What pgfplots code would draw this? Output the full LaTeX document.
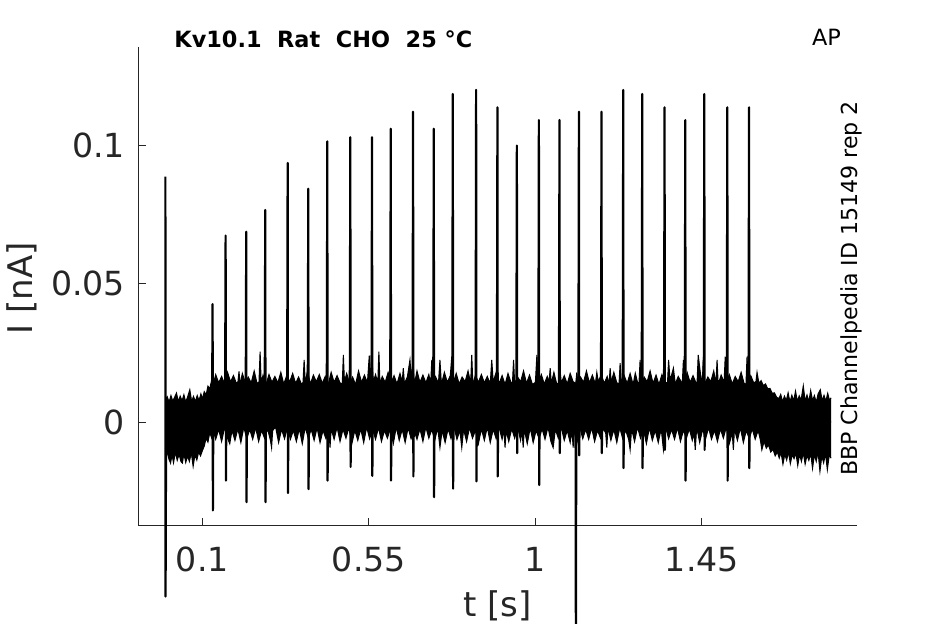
\documentclass[border=0pt]{standalone}
\usepackage{fontspec}
\setmainfont{DejaVu Sans}
\usepackage{pgfplots}
\usepackage{pgfplotstable}
\pgfplotsset{compat=1.18}
\usepgfplotslibrary{fillbetween}
\definecolor{axgray}{HTML}{262626}

\pgfplotstableread{
x y
0.000 0.0082
0.005 0.0092
0.010 0.0072
0.015 0.0096
0.020 0.0076
0.025 0.0090
0.030 0.0105
0.035 0.0074
0.040 0.0094
0.045 0.0077
0.050 0.0099
0.055 0.0073
0.060 0.0091
0.066 0.0117
0.071 0.0075
0.076 0.0093
0.081 0.0074
0.086 0.0096
0.091 0.0078
0.096 0.0102
0.100 0.0084
0.105 0.0110
0.110 0.0098
0.115 0.0130
0.120 0.0120
0.125 0.0152
0.130 0.0140
0.136 0.0172
0.144 0.0142
0.152 0.0165
0.160 0.0138
0.168 0.0180
0.176 0.0146
0.184 0.0168
0.192 0.0140
0.196 0.0145
0.199 0.0183
0.202 0.0136
0.208 0.0176
0.216 0.0144
0.224 0.0163
0.232 0.0142
0.240 0.0185
0.248 0.0138
0.253 0.0146
0.256 0.0255
0.259 0.0140
0.264 0.0170
0.272 0.0136
0.280 0.0172
0.288 0.0144
0.296 0.0165
0.304 0.0142
0.312 0.0180
0.320 0.0138
0.328 0.0168
0.336 0.0146
0.344 0.0176
0.352 0.0140
0.360 0.0163
0.368 0.0136
0.372 0.0144
0.375 0.0225
0.378 0.0142
0.384 0.0185
0.392 0.0138
0.400 0.0170
0.408 0.0146
0.416 0.0172
0.424 0.0140
0.432 0.0165
0.440 0.0136
0.448 0.0180
0.456 0.0144
0.464 0.0168
0.472 0.0142
0.478 0.0138
0.481 0.0243
0.484 0.0146
0.490 0.0176
0.498 0.0140
0.506 0.0163
0.514 0.0136
0.522 0.0185
0.530 0.0144
0.538 0.0170
0.546 0.0142
0.551 0.0240
0.554 0.0138
0.558 0.0236
0.562 0.0146
0.568 0.0172
0.574 0.0140
0.577 0.0255
0.580 0.0136
0.586 0.0165
0.594 0.0144
0.602 0.0180
0.610 0.0142
0.618 0.0168
0.626 0.0138
0.634 0.0176
0.640 0.0146
0.643 0.0195
0.646 0.0140
0.654 0.0163
0.661 0.0225
0.665 0.0150
0.669 0.0225
0.673 0.0136
0.680 0.0185
0.688 0.0144
0.696 0.0170
0.704 0.0142
0.712 0.0172
0.717 0.0138
0.720 0.0225
0.723 0.0146
0.730 0.0165
0.738 0.0140
0.742 0.0225
0.746 0.0136
0.754 0.0180
0.762 0.0144
0.770 0.0168
0.774 0.0237
0.778 0.0142
0.786 0.0176
0.794 0.0138
0.802 0.0163
0.810 0.0146
0.818 0.0185
0.825 0.0140
0.828 0.0243
0.831 0.0136
0.838 0.0170
0.846 0.0144
0.854 0.0172
0.862 0.0142
0.870 0.0165
0.878 0.0138
0.882 0.0225
0.886 0.0146
0.894 0.0180
0.902 0.0140
0.910 0.0168
0.918 0.0136
0.926 0.0176
0.934 0.0144
0.938 0.0142
0.941 0.0225
0.944 0.0138
0.952 0.0163
0.960 0.0146
0.968 0.0185
0.976 0.0140
0.984 0.0170
0.992 0.0136
1.000 0.0144
1.004 0.0243
1.008 0.0142
1.016 0.0172
1.024 0.0138
1.032 0.0165
1.037 0.0146
1.040 0.0195
1.043 0.0140
1.050 0.0180
1.058 0.0136
1.064 0.0144
1.067 0.0183
1.070 0.0142
1.078 0.0168
1.086 0.0138
1.094 0.0176
1.102 0.0146
1.109 0.0140
1.112 0.0180
1.115 0.0136
1.122 0.0163
1.130 0.0144
1.138 0.0185
1.146 0.0142
1.154 0.0170
1.162 0.0138
1.166 0.0180
1.170 0.0146
1.178 0.0172
1.186 0.0140
1.194 0.0165
1.199 0.0136
1.202 0.0195
1.205 0.0144
1.212 0.0180
1.220 0.0142
1.226 0.0138
1.229 0.0213
1.232 0.0146
1.240 0.0168
1.248 0.0140
1.256 0.0176
1.264 0.0136
1.270 0.0177
1.276 0.0144
1.280 0.0142
1.283 0.0225
1.286 0.0138
1.294 0.0163
1.302 0.0146
1.310 0.0185
1.318 0.0140
1.326 0.0170
1.334 0.0136
1.342 0.0172
1.350 0.0144
1.357 0.0142
1.360 0.0225
1.364 0.0150
1.373 0.0195
1.378 0.0138
1.386 0.0165
1.394 0.0146
1.397 0.0140
1.400 0.0225
1.403 0.0136
1.410 0.0180
1.418 0.0144
1.426 0.0168
1.434 0.0142
1.437 0.0145
1.440 0.0243
1.446 0.0176
1.451 0.0140
1.454 0.0237
1.458 0.0138
1.466 0.0163
1.474 0.0146
1.482 0.0185
1.488 0.0140
1.491 0.0225
1.494 0.0136
1.502 0.0170
1.510 0.0144
1.513 0.0237
1.516 0.0142
1.524 0.0172
1.532 0.0138
1.540 0.0165
1.548 0.0146
1.556 0.0180
1.564 0.0140
1.569 0.0136
1.572 0.0237
1.575 0.0144
1.582 0.0168
1.590 0.0142
1.596 0.0146
1.599 0.0180
1.604 0.0140
1.610 0.0150
1.616 0.0132
1.622 0.0138
1.628 0.0120
1.634 0.0122
1.640 0.0104
1.646 0.0106
1.652 0.0090
1.658 0.0085
1.663 0.0100
1.668 0.0074
1.673 0.0094
1.678 0.0078
1.683 0.0106
1.688 0.0073
1.693 0.0097
1.698 0.0077
1.703 0.0112
1.708 0.0075
1.713 0.0095
1.718 0.0079
1.724 0.0131
1.729 0.0076
1.734 0.0098
1.739 0.0074
1.744 0.0114
1.749 0.0078
1.754 0.0096
1.759 0.0072
1.764 0.0102
1.770 0.0117
1.775 0.0077
1.780 0.0097
1.785 0.0076
1.790 0.0104
1.795 0.0078
1.799 0.0088
}\upperenv

\pgfplotstableread{
x y
0.000 -0.0093
0.005 -0.0110
0.010 -0.0135
0.014 -0.0148
0.018 -0.0118
0.022 -0.0147
0.027 -0.0108
0.032 -0.0138
0.037 -0.0116
0.042 -0.0142
0.046 -0.0148
0.050 -0.0113
0.055 -0.0146
0.060 -0.0123
0.065 -0.0142
0.070 -0.0110
0.075 -0.0160
0.080 -0.0118
0.085 -0.0137
0.090 -0.0108
0.095 -0.0122
0.100 -0.0103
0.105 -0.0087
0.110 -0.0058
0.115 -0.0072
0.120 -0.0038
0.125 -0.0057
0.130 -0.0033
0.136 -0.0062
0.144 -0.0026
0.152 -0.0070
0.160 -0.0020
0.168 -0.0058
0.174 -0.0078
0.180 -0.0030
0.188 -0.0066
0.196 -0.0024
0.204 -0.0074
0.212 -0.0018
0.220 -0.0060
0.228 -0.0026
0.236 -0.0062
0.244 -0.0020
0.252 -0.0070
0.260 -0.0030
0.268 -0.0058
0.276 -0.0024
0.284 -0.0066
0.287 -0.0092
0.290 -0.0030
0.298 -0.0018
0.306 -0.0074
0.314 -0.0026
0.322 -0.0060
0.330 -0.0020
0.338 -0.0062
0.346 -0.0030
0.354 -0.0070
0.362 -0.0024
0.370 -0.0078
0.378 -0.0018
0.386 -0.0058
0.394 -0.0026
0.402 -0.0066
0.410 -0.0020
0.418 -0.0074
0.426 -0.0030
0.434 -0.0060
0.442 -0.0030
0.445 -0.0092
0.448 -0.0024
0.456 -0.0062
0.464 -0.0018
0.472 -0.0070
0.480 -0.0026
0.488 -0.0058
0.496 -0.0020
0.504 -0.0078
0.512 -0.0030
0.520 -0.0066
0.528 -0.0024
0.536 -0.0074
0.544 -0.0018
0.552 -0.0060
0.560 -0.0026
0.568 -0.0062
0.576 -0.0020
0.584 -0.0070
0.592 -0.0030
0.600 -0.0058
0.608 -0.0024
0.616 -0.0078
0.624 -0.0018
0.632 -0.0066
0.640 -0.0026
0.648 -0.0074
0.656 -0.0020
0.664 -0.0060
0.672 -0.0030
0.680 -0.0062
0.688 -0.0024
0.696 -0.0070
0.704 -0.0018
0.712 -0.0058
0.720 -0.0026
0.728 -0.0066
0.736 -0.0020
0.742 -0.0092
0.748 -0.0030
0.756 -0.0074
0.764 -0.0024
0.772 -0.0060
0.780 -0.0018
0.788 -0.0062
0.796 -0.0030
0.801 -0.0092
0.806 -0.0026
0.814 -0.0070
0.822 -0.0020
0.830 -0.0058
0.838 -0.0030
0.846 -0.0078
0.854 -0.0024
0.862 -0.0066
0.870 -0.0018
0.878 -0.0074
0.886 -0.0026
0.894 -0.0060
0.902 -0.0020
0.910 -0.0062
0.915 -0.0030
0.918 -0.0092
0.921 -0.0030
0.928 -0.0070
0.936 -0.0024
0.944 -0.0058
0.952 -0.0018
0.960 -0.0066
0.964 -0.0030
0.967 -0.0092
0.970 -0.0026
0.978 -0.0078
0.986 -0.0020
0.994 -0.0074
1.002 -0.0030
1.010 -0.0060
1.018 -0.0024
1.026 -0.0062
1.034 -0.0018
1.042 -0.0070
1.048 -0.0092
1.054 -0.0026
1.062 -0.0058
1.070 -0.0020
1.078 -0.0066
1.086 -0.0030
1.094 -0.0074
1.099 -0.0030
1.102 -0.0092
1.105 -0.0024
1.112 -0.0078
1.120 -0.0018
1.128 -0.0060
1.136 -0.0026
1.144 -0.0062
1.152 -0.0020
1.160 -0.0070
1.168 -0.0030
1.176 -0.0058
1.184 -0.0024
1.190 -0.0040
1.193 -0.0092
1.196 -0.0018
1.204 -0.0066
1.212 -0.0026
1.220 -0.0074
1.228 -0.0020
1.236 -0.0060
1.244 -0.0030
1.252 -0.0062
1.256 -0.0100
1.260 -0.0024
1.268 -0.0070
1.276 -0.0018
1.284 -0.0058
1.292 -0.0026
1.300 -0.0078
1.308 -0.0020
1.316 -0.0066
1.324 -0.0030
1.332 -0.0074
1.340 -0.0024
1.346 -0.0100
1.352 -0.0018
1.360 -0.0060
1.368 -0.0026
1.376 -0.0062
1.384 -0.0020
1.392 -0.0070
1.400 -0.0030
1.408 -0.0058
1.416 -0.0024
1.424 -0.0066
1.429 -0.0040
1.432 -0.0100
1.436 -0.0018
1.444 -0.0074
1.452 -0.0026
1.460 -0.0060
1.468 -0.0020
1.476 -0.0062
1.484 -0.0030
1.492 -0.0070
1.500 -0.0024
1.508 -0.0058
1.516 -0.0018
1.524 -0.0078
1.532 -0.0040
1.535 -0.0100
1.538 -0.0026
1.546 -0.0066
1.554 -0.0020
1.562 -0.0074
1.570 -0.0030
1.578 -0.0060
1.586 -0.0024
1.594 -0.0062
1.602 -0.0030
1.608 -0.0064
1.612 -0.0100
1.618 -0.0070
1.624 -0.0094
1.630 -0.0082
1.636 -0.0108
1.642 -0.0098
1.648 -0.0122
1.654 -0.0108
1.659 -0.0130
1.664 -0.0110
1.669 -0.0152
1.674 -0.0116
1.679 -0.0137
1.684 -0.0108
1.689 -0.0150
1.694 -0.0118
1.699 -0.0132
1.704 -0.0111
1.709 -0.0157
1.714 -0.0117
1.719 -0.0142
1.724 -0.0110
1.729 -0.0152
1.734 -0.0120
1.739 -0.0138
1.744 -0.0113
1.749 -0.0167
1.754 -0.0118
1.759 -0.0142
1.764 -0.0108
1.769 -0.0178
1.774 -0.0123
1.779 -0.0147
1.784 -0.0113
1.789 -0.0172
1.794 -0.0120
1.799 -0.0130
}\lowerenv

\pgfplotstableread{
x y
0.0000 0.0887
0.0005 -0.0630
0.0020 0.0000
0.1261 0.0030
0.1276 0.0426
0.1284 -0.0319
0.1296 0.0030
0.1613 0.0030
0.1628 0.0674
0.1636 -0.0211
0.1648 0.0030
0.2170 0.0030
0.2185 0.0688
0.2193 -0.0289
0.2205 0.0030
0.2684 0.0030
0.2699 0.0766
0.2707 -0.0289
0.2719 0.0030
0.3290 0.0030
0.3305 0.0936
0.3313 -0.0256
0.3325 0.0030
0.3847 0.0030
0.3862 0.0843
0.3870 -0.0242
0.3882 0.0030
0.4361 0.0030
0.4376 0.1014
0.4384 -0.0211
0.4396 0.0030
0.4983 0.0030
0.4998 0.1029
0.5006 -0.0162
0.5018 0.0030
0.5570 0.0030
0.5585 0.1029
0.5593 -0.0194
0.5605 0.0030
0.6076 0.0030
0.6091 0.1060
0.6099 -0.0211
0.6111 0.0030
0.6679 0.0030
0.6694 0.1121
0.6702 -0.0196
0.6714 0.0030
0.7239 0.0030
0.7254 0.1060
0.7262 -0.0271
0.7274 0.0030
0.7753 0.0030
0.7768 0.1185
0.7776 -0.0240
0.7788 0.0030
0.8383 0.0030
0.8398 0.1200
0.8406 -0.0214
0.8418 0.0030
0.8959 0.0030
0.8974 0.1137
0.8982 -0.0196
0.8994 0.0030
0.9484 0.0030
0.9499 0.0999
0.9507 -0.0112
0.9519 0.0030
1.0079 0.0030
1.0094 0.1091
1.0102 -0.0227
1.0114 0.0030
1.0636 0.0030
1.0651 0.1091
1.0659 -0.0112
1.0671 0.0030
1.1085 0.0030
1.1095 -0.0850
1.1105 0.0030
1.1161 0.0030
1.1176 0.1121
1.1184 -0.0120
1.1196 0.0030
1.1772 0.0030
1.1787 0.1121
1.1795 -0.0112
1.1807 0.0030
1.2359 0.0030
1.2374 0.1200
1.2382 -0.0166
1.2394 0.0030
1.2873 0.0030
1.2888 0.1185
1.2896 -0.0166
1.2908 0.0030
1.3476 0.0030
1.3491 0.1137
1.3499 -0.0100
1.3511 0.0030
1.4036 0.0030
1.4051 0.1091
1.4059 -0.0211
1.4071 0.0030
1.4550 0.0030
1.4565 0.1185
1.4573 -0.0100
1.4585 0.0030
1.5172 0.0030
1.5187 0.1137
1.5195 -0.0211
1.5207 0.0030
1.5759 0.0030
1.5774 0.1137
1.5782 -0.0166
1.5794 0.0030
1.7990 0.0000
}\spikes

\begin{document}
\begin{tikzpicture}
\begin{axis}[
  scale only axis,
  width=359.65pt, height=239.5pt,
  xmin=-0.074, xmax=1.87, ymin=-0.0374, ymax=0.1356,
  axis x line*=bottom, axis y line*=left,
  axis line style={color=axgray, line width=0.5pt},
  xtick={0.1,0.55,1,1.45}, xticklabels={0.1,0.55,1,1.45},
  ytick={0,0.05,0.1}, yticklabels={0,0.05,0.1},
  scaled x ticks=false, scaled y ticks=false,
  tick align=inside, major tick length=4pt,
  tick style={color=axgray, line width=0.5pt},
  tick label style={font=\fontsize{16.6}{19}\selectfont, text=axgray},
  xticklabel style={anchor=base, inner sep=0pt, yshift=-23.15pt},
  yticklabel style={anchor=east, inner sep=0pt, xshift=-6.25pt},
  clip=false,
]
\addplot[black, line width=0.5pt, name path=U] table[x=x, y=y] {\upperenv};
\addplot[black, line width=0.5pt, name path=L] table[x=x, y=y] {\lowerenv};
\addplot[black] fill between[of=U and L];
\addplot[black, line width=1.1pt, line join=round] table[x=x, y=y] {\spikes};
\end{axis}
\node[anchor=base west, inner sep=0pt, font=\fontsize{11.2}{13}\selectfont\bfseries] at (18pt,238.85pt) {Kv10.1\ \ Rat\ \ CHO\ \ 25 °C};
\node[anchor=base west, inner sep=0pt, font=\fontsize{11.2}{13}\selectfont] at (336.85pt,239.85pt) {AP};
\node[anchor=base west, rotate=90, inner sep=0pt, font=\fontsize{11.05}{13}\selectfont] at (359.65pt,24.7pt) {BBP Channelpedia ID 15149 rep 2};
\node[anchor=base, inner sep=0pt, text=axgray, font=\fontsize{17}{20}\selectfont] at (179.8pt,-45.5pt) {t [s]};
\node[anchor=base, rotate=90, inner sep=0pt, text=axgray, font=\fontsize{17}{20}\selectfont] at (-52.85pt,118.7pt) {I [nA]};
\pgfresetboundingbox
\useasboundingbox (-69pt,-49.15pt) rectangle (403.5pt,262.85pt);
\end{tikzpicture}
\end{document}
